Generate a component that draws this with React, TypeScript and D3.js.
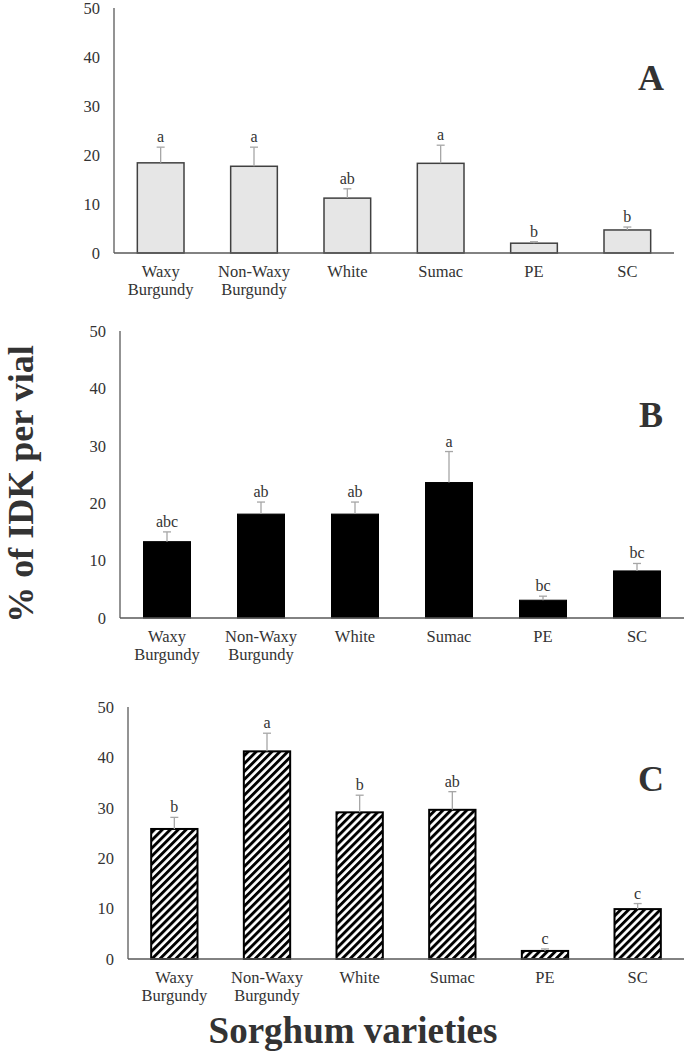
import React, { useEffect, useRef } from "react";
import * as d3 from "d3";

// sorghum varieties (x categories, split into label lines)
const categories = ["Waxy Burgundy", "Non-Waxy Burgundy", "White", "Sumac", "PE", "SC"];
const labelLines = [["Waxy", "Burgundy"], ["Non-Waxy", "Burgundy"], ["White"], ["Sumac"], ["PE"], ["SC"]];
const yTicks = [0, 10, 20, 30, 40, 50];

// panel A
const meansA = [18.4, 17.7, 11.2, 18.3, 2.0, 4.7];
const errA = [3.2, 3.9, 1.9, 3.7, 0.3, 0.6];
const lettersA = ["a", "a", "ab", "a", "b", "b"];

// panel B
const meansB = [13.3, 18.1, 18.1, 23.6, 3.1, 8.2];
const errB = [1.7, 2.1, 2.1, 5.4, 0.7, 1.3];
const lettersB = ["abc", "ab", "ab", "a", "bc", "bc"];

// panel C
const meansC = [25.8, 41.2, 29.1, 29.6, 1.6, 9.9];
const errC = [2.3, 3.6, 3.4, 3.6, 0.4, 1.1];
const lettersC = ["b", "a", "b", "ab", "c", "c"];

const FONT = "Liberation Serif, Times New Roman, serif";
const TEXT = "#333333";

interface PanelSpec {
  name: string
  means: number[]
  errs: number[]
  letters: string[]
  left: number
  right: number
  top: number
  bottom: number
  fill: string
  stroke: string
  strokeWidth: number
}

function App() {
  const ref = useRef<SVGSVGElement>(null);

  useEffect(() => {
    document.body.style.margin = "0";
    const svg = d3.select(ref.current);
    svg.selectAll("*").remove();

    // hatch pattern for panel C
    const defs = svg.append("defs");
    defs.append("pattern")
      .attr("id", "hatch")
      .attr("patternUnits", "userSpaceOnUse")
      .attr("width", 5.6)
      .attr("height", 5.6)
      .attr("patternTransform", "rotate(45)")
      .call((p: any) => p.append("rect").attr("width", 5.6).attr("height", 5.6).attr("fill", "#fff"))
      .call((p: any) => p.append("rect").attr("width", 2.9).attr("height", 5.6).attr("fill", "#000"));

    const panels: PanelSpec[] = [
      { name: "A", means: meansA, errs: errA, letters: lettersA, left: 114, right: 674, top: 8, bottom: 253, fill: "#e6e6e6", stroke: "#404040", strokeWidth: 1.5 },
      { name: "B", means: meansB, errs: errB, letters: lettersB, left: 120, right: 684, top: 331, bottom: 618, fill: "#000", stroke: "#000", strokeWidth: 1 },
      { name: "C", means: meansC, errs: errC, letters: lettersC, left: 128, right: 684, top: 707, bottom: 959, fill: "url(#hatch)", stroke: "#000", strokeWidth: 2 },
    ];

    panels.forEach((pn) => {
      const g = svg.append("g");
      const x = d3.scaleBand<string>()
        .domain(categories)
        .range([pn.left, pn.right])
        .paddingInner(0.5)
        .paddingOuter(0.25);
      const y = d3.scaleLinear().domain([0, 50]).range([pn.bottom, pn.top]);

      // y tick labels
      g.append("g")
        .selectAll("text")
        .data(yTicks)
        .join("text")
        .attr("x", pn.left - 14)
        .attr("y", (d) => y(d))
        .attr("dy", "0.35em")
        .attr("text-anchor", "end")
        .attr("font-family", FONT)
        .attr("font-size", 16.5)
        .attr("fill", TEXT)
        .text((d) => d);

      // bars
      g.append("g")
        .selectAll("rect")
        .data(pn.means)
        .join("rect")
        .attr("x", (d, i) => x(categories[i])!)
        .attr("width", x.bandwidth())
        .attr("y", (d) => y(d))
        .attr("height", (d) => y(0) - y(d))
        .attr("fill", pn.fill)
        .attr("stroke", pn.stroke)
        .attr("stroke-width", pn.strokeWidth);

      // error bars (upper only)
      const eb = g.append("g").attr("stroke", "#a6a6a6").attr("stroke-width", 1.3);
      pn.means.forEach((m, i) => {
        const cx = x(categories[i])! + x.bandwidth() / 2;
        eb.append("line").attr("x1", cx).attr("x2", cx).attr("y1", y(m)).attr("y2", y(m + pn.errs[i]));
        eb.append("line").attr("x1", cx - 4).attr("x2", cx + 4).attr("y1", y(m + pn.errs[i])).attr("y2", y(m + pn.errs[i]));
      });

      // significance letters
      g.append("g")
        .selectAll("text")
        .data(pn.letters)
        .join("text")
        .attr("x", (d, i) => x(categories[i])! + x.bandwidth() / 2)
        .attr("y", (d, i) => y(pn.means[i] + pn.errs[i]) - 5)
        .attr("text-anchor", "middle")
        .attr("font-family", FONT)
        .attr("font-size", 16)
        .attr("fill", TEXT)
        .text((d) => d);

      // axes lines
      g.append("line")
        .attr("x1", pn.left).attr("x2", pn.left)
        .attr("y1", pn.top).attr("y2", pn.bottom)
        .attr("stroke", "#595959").attr("stroke-width", 1.3);
      g.append("line")
        .attr("x1", pn.left).attr("x2", pn.right)
        .attr("y1", pn.bottom).attr("y2", pn.bottom)
        .attr("stroke", "#595959").attr("stroke-width", 1.3);

      // category labels
      const lab = g.append("g")
        .attr("font-family", FONT)
        .attr("font-size", 16.5)
        .attr("fill", TEXT)
        .attr("text-anchor", "middle");
      labelLines.forEach((lines, i) => {
        const cx = x(categories[i])! + x.bandwidth() / 2;
        lines.forEach((t, j) => {
          lab.append("text").attr("x", cx).attr("y", pn.bottom + 24 + j * 18).text(t);
        });
      });

      // panel letter
      g.append("text")
        .attr("x", 651)
        .attr("y", y(50) + (pn.bottom - pn.top) * 0.335)
        .attr("text-anchor", "middle")
        .attr("font-family", FONT)
        .attr("font-weight", "bold")
        .attr("font-size", 36)
        .attr("fill", TEXT)
        .text(pn.name);
    });

    // y axis title
    svg.append("text")
      .attr("transform", "translate(33,484) rotate(-90)")
      .attr("text-anchor", "middle")
      .attr("font-family", FONT)
      .attr("font-weight", "bold")
      .attr("font-size", 36)
      .attr("fill", TEXT)
      .text("% of IDK per vial");

    // x axis title
    svg.append("text")
      .attr("x", 353)
      .attr("y", 1043)
      .attr("text-anchor", "middle")
      .attr("font-family", FONT)
      .attr("font-weight", "bold")
      .attr("font-size", 37)
      .attr("fill", TEXT)
      .text("Sorghum varieties");
  }, []);

  return (
    <svg ref={ref} width={685} height={1052} style={{ display: "block", background: "#fff" }} />
  );
}

export default App;
